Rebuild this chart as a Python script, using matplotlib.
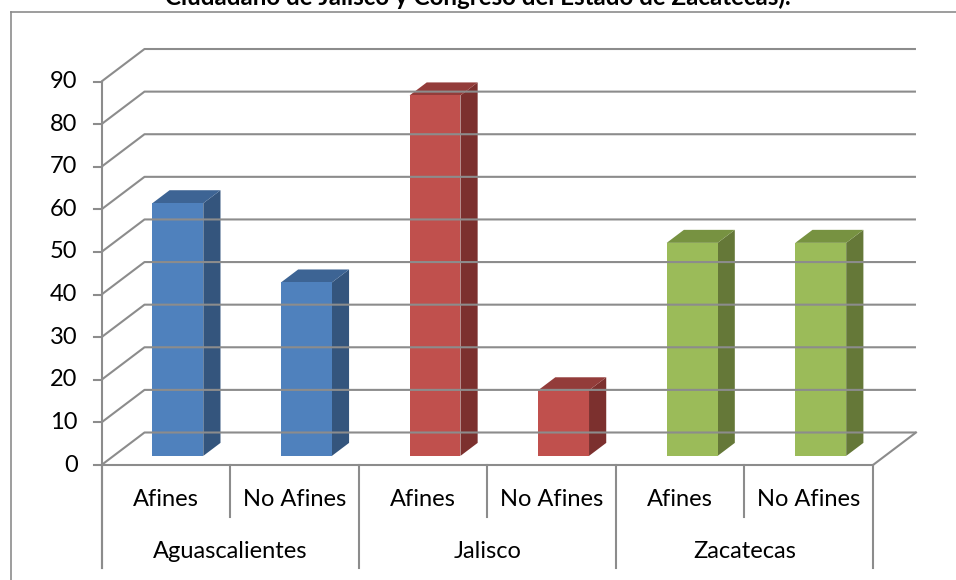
import numpy as np
import matplotlib.pyplot as plt
from matplotlib.patches import Rectangle, Polygon
from matplotlib.lines import Line2D

plt.rcParams['font.family'] = ['Lato', 'DejaVu Sans']

# datos
grupos = ['Aguascalientes', 'Jalisco', 'Zacatecas']
categorias = ['Afines', 'No Afines', 'Afines', 'No Afines', 'Afines', 'No Afines']
valores = [59.3, 40.7, 84.6, 15.4, 50, 50]
yticks = [0, 10, 20, 30, 40, 50, 60, 70, 80, 90]
titulo = 'Ciudadano de Jalisco y Congreso del Estado de Zacatecas).'

# colores (frente, lado, arriba) por grupo
colores = {
    'Aguascalientes': ('#4F81BD', '#34557D', '#3D6494'),
    'Jalisco': ('#C0504D', '#7C302E', '#933C3A'),
    'Zacatecas': ('#9BBB59', '#657838', '#779241'),
}
gris = '#8C8C8C'

# geometría (pixeles de la figura -> datos)
W, H = 956, 580
X0, CW = 101.5, 128.58      # x del eje y ancho de categoría
Y0, VU = 465.0, 4.261       # y del cero y pixeles por unidad
DX = 43 / CW                # profundidad en x
DY = 32.5 / VU              # profundidad en y
d0, d1 = 0.28, 0.68         # profundidad de las barras
hw = 0.198                  # media anchura de barra
fs = 17

fig = plt.figure(figsize=(W / 100, H / 100), dpi=100)
ax = fig.add_axes([0, 0, 1, 1])
ax.set_xlim(-X0 / CW, (W - X0) / CW)
ax.set_ylim((Y0 - H) / VU, Y0 / VU)
ax.axis('off')

# marco del gráfico
fig.add_artist(Line2D([11 / W, 11 / W], [0, 1 - 12 / H], transform=fig.transFigure, color=gris, lw=1.2))
fig.add_artist(Line2D([11 / W, 1], [1 - 12 / H, 1 - 12 / H], transform=fig.transFigure, color=gris, lw=1.2))

# título (cortado arriba, como en el original)
fig.text(0.5, 1 - 5 / H, titulo, ha='center', va='baseline', fontsize=17.4, fontweight='bold')

n = len(valores)
# paredes: líneas de cuadrícula
for v in yticks:
    ax.plot([0, DX, n + DX], [v, v + DY, v + DY], color=gris, lw=1.5, solid_capstyle='butt')
ax.plot([n, n + DX], [0, DY], color=gris, lw=1.5)

# eje y
y_bot = (Y0 - 568) / VU
ax.plot([0, 0], [y_bot, yticks[-1]], color=gris, lw=1.5)
for v in yticks:
    ax.plot([-8 / CW, 0], [v, v], color=gris, lw=1.5)
    ax.text(-24 / CW, v, str(v), ha='right', va='center', fontsize=fs)

# eje x con etiquetas en dos niveles
ax.plot([0, n], [0, 0], color=gris, lw=1.5)
y_mid = (Y0 - 517) / VU
for k in range(n + 1):
    ax.plot([k, k], [0, y_bot if k % 2 == 0 else y_mid], color=gris, lw=1.5)
for i, c in enumerate(categorias):
    ax.text(i + 0.5, (Y0 - 500) / VU, c, ha='center', va='center', fontsize=fs)
for g, nombre in enumerate(grupos):
    ax.text(2 * g + 1, (Y0 - 551) / VU, nombre, ha='center', va='center', fontsize=fs)

# barras 3D
ddx, ddy = (d1 - d0) * DX, (d1 - d0) * DY
for i, v in enumerate(valores):
    frente, lado, arriba = colores[grupos[i // 2]]
    x0 = i + 0.5 - hw + d0 * DX
    x1 = i + 0.5 + hw + d0 * DX
    y0 = d0 * DY
    ax.add_patch(Polygon([(x1, y0), (x1 + ddx, y0 + ddy), (x1 + ddx, y0 + v + ddy), (x1, y0 + v)],
                         closed=True, facecolor=lado, edgecolor='none'))
    ax.add_patch(Polygon([(x0, y0 + v), (x1, y0 + v), (x1 + ddx, y0 + v + ddy), (x0 + ddx, y0 + v + ddy)],
                         closed=True, facecolor=arriba, edgecolor='none'))
    ax.add_patch(Rectangle((x0, y0), x1 - x0, v, facecolor=frente, edgecolor='none'))

fig.savefig('out.png', dpi=100)
